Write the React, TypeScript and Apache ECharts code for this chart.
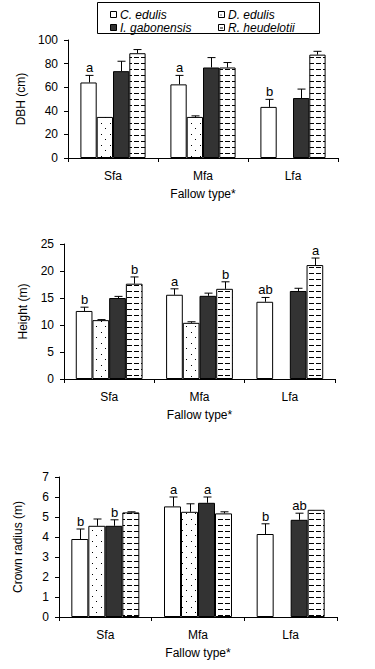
import React, { useEffect, useRef } from 'react';
import * as echarts from 'echarts';

const categories = ['Sfa', 'Mfa', 'Lfa'];
const speciesNames = ['C. edulis', 'D. edulis', 'I. gabonensis', 'R. heudelotii'];

// DBH (cm)
const dbhCedulis = [64.0, 62.4, 43.3];
const dbhCedulisErr = [70.0, 70.0, 49.7];
const dbhDedulis = [34.8, 34.8, null];
const dbhDedulisErr = [null, 35.7, null];
const dbhIgabonensis = [73.6, 76.7, 50.8];
const dbhIgabonensisErr = [82.0, 85.1, 58.4];
const dbhRheudelotii = [88.8, 76.7, 87.6];
const dbhRheudelotiiErr = [91.9, 80.9, 90.4];
const dbhLettersCedulis = ['a', 'a', 'b'];

// Height (m)
const hCedulis = [12.6, 15.6, 14.3];
const hCedulisErr = [13.3, 16.7, 15.1];
const hDedulis = [10.9, 10.4, null];
const hDedulisErr = [11.0, 10.6, null];
const hIgabonensis = [15.0, 15.4, 16.3];
const hIgabonensisErr = [15.3, 15.9, 16.8];
const hRheudelotii = [17.65, 16.7, 21.1];
const hRheudelotiiErr = [18.9, 18.0, 22.4];
const hLettersCedulis = ['b', 'a', 'ab'];
const hLettersRheudelotii = ['b', 'b', 'a'];

// Crown radius (m)
const crCedulis = [3.9, 5.53, 4.15];
const crCedulisErr = [4.4, 6.0, 4.66];
const crDedulis = [4.56, 5.26, null];
const crDedulisErr = [4.9, 5.66, null];
const crIgabonensis = [4.56, 5.71, 4.86];
const crIgabonensisErr = [4.86, 6.0, 5.19];
const crRheudelotii = [5.23, 5.18, 5.36];
const crRheudelotiiErr = [5.26, 5.26, null];
const crLettersCedulis = ['b', 'a', 'b'];
const crLettersIgabonensis = ['b', 'a', 'ab'];

const FONT = '"Liberation Sans", Arial, sans-serif';

const panels = [
  {
    yName: 'DBH (cm)', max: 100, interval: 20,
    grid: { left: 68, right: 37, top: 40, bottom: 511 },
    barW: 16.3,
    values: [dbhCedulis, dbhDedulis, dbhIgabonensis, dbhRheudelotii],
    errs: [dbhCedulisErr, dbhDedulisErr, dbhIgabonensisErr, dbhRheudelotiiErr],
    letters: [dbhLettersCedulis, null, null, null],
  },
  {
    yName: 'Height (m)', max: 25, interval: 5,
    grid: { left: 64, right: 40, top: 244, bottom: 290 },
    barW: 16.7,
    values: [hCedulis, hDedulis, hIgabonensis, hRheudelotii],
    errs: [hCedulisErr, hDedulisErr, hIgabonensisErr, hRheudelotiiErr],
    letters: [hLettersCedulis, null, null, hLettersRheudelotii],
  },
  {
    yName: 'Crown radius (m)', max: 7, interval: 1,
    grid: { left: 59, right: 38, top: 477, bottom: 52 },
    barW: 17,
    values: [crCedulis, crDedulis, crIgabonensis, crRheudelotii],
    errs: [crCedulisErr, crDedulisErr, crIgabonensisErr, crRheudelotiiErr],
    letters: [crLettersCedulis, null, crLettersIgabonensis, null],
  },
];

function makePattern(w: number, h: number, rects: number[][]) {
  const c = document.createElement('canvas');
  c.width = w;
  c.height = h;
  const ctx = c.getContext('2d')!;
  ctx.fillStyle = '#ffffff';
  ctx.fillRect(0, 0, w, h);
  ctx.fillStyle = '#000000';
  rects.forEach((r) => ctx.fillRect(r[0], r[1], r[2], r[3]));
  return { image: c, repeat: 'repeat', imageWidth: w, imageHeight: h };
}

function buildOption() {
  const dotPattern = makePattern(9, 11, [[2, 2, 1, 1], [6, 7, 1, 1]]);
  const dashPattern = makePattern(7, 6, [[1, 3, 5, 1]]);
  const fills: any[] = ['#ffffff', dotPattern, '#333333', dashPattern];

  const grid: any[] = [];
  const xAxis: any[] = [];
  const yAxis: any[] = [];
  const series: any[] = [];

  panels.forEach((p, pi) => {
    grid.push({ ...p.grid, containLabel: false });
    xAxis.push({
      type: 'category', gridIndex: pi, data: categories,
      name: 'Fallow type*', nameLocation: 'middle', nameGap: 30,
      nameTextStyle: { fontFamily: FONT, fontSize: 12, color: '#000' },
      axisLine: { lineStyle: { color: '#000', width: 1 } },
      axisTick: { show: true, length: 4, lineStyle: { color: '#000' } },
      axisLabel: { margin: 12, fontFamily: FONT, fontSize: 12, color: '#000' },
      splitLine: { show: false },
    });
    yAxis.push({
      type: 'value', gridIndex: pi, min: 0, max: p.max, interval: p.interval,
      name: p.yName, nameLocation: 'middle', nameGap: 35,
      nameTextStyle: { fontFamily: FONT, fontSize: 12, color: '#000' },
      axisLine: { show: true, lineStyle: { color: '#000', width: 1 } },
      axisTick: { show: true, length: 4, lineStyle: { color: '#000' } },
      axisLabel: { margin: 10, fontFamily: FONT, fontSize: 12, color: '#000' },
      splitLine: { show: false },
    });

    p.values.forEach((vals, si) => {
      series.push({
        type: 'bar', name: speciesNames[si], xAxisIndex: pi, yAxisIndex: pi,
        data: vals.map((v) => (v == null ? '-' : v)),
        barWidth: p.barW, barGap: '0%',
        itemStyle: { color: fills[si], borderColor: '#000', borderWidth: 1 },
        emphasis: { disabled: true },
        silent: true,
      });
    });

    const rows: any[] = [];
    const rowLetters: (string | null)[] = [];
    p.values.forEach((vals, si) => {
      vals.forEach((v, ci) => {
        if (v == null) return;
        const e = p.errs[si][ci];
        rows.push([ci, si, v, e == null ? v : e]);
        const l = p.letters[si];
        rowLetters.push(l ? l[ci] : null);
      });
    });
    const barW = p.barW;
    series.push({
      type: 'custom', xAxisIndex: pi, yAxisIndex: pi,
      dimensions: ['cat', 'sp', 'val', 'err'],
      encode: { x: 0, y: 3 },
      data: rows,
      silent: true,
      z: 5,
      renderItem: (params: any, api: any) => {
        const cat = api.value(0);
        const s = api.value(1);
        const v = api.value(2);
        const e = api.value(3);
        const base = api.coord([cat, v]);
        const top = api.coord([cat, e]);
        const x = Math.round(base[0] + (s - 1.5) * barW) + 0.5;
        const children: any[] = [];
        if (e > v) {
          children.push({
            type: 'line',
            shape: { x1: x, y1: base[1], x2: x, y2: top[1] },
            style: { stroke: '#000', lineWidth: 1 },
          });
          children.push({
            type: 'line',
            shape: { x1: x - 4, y1: top[1], x2: x + 4, y2: top[1] },
            style: { stroke: '#000', lineWidth: 1 },
          });
        }
        const letter = rowLetters[params.dataIndex];
        if (letter) {
          children.push({
            type: 'text',
            x: x,
            y: top[1] - 1,
            style: {
              text: letter, textAlign: 'center', textVerticalAlign: 'bottom',
              fontFamily: FONT, fontSize: 13, fill: '#000',
            },
          });
        }
        return { type: 'group', children };
      },
    });
  });

  // Legend (drawn as graphic)
  const legendPos = [
    { x: 110, y: 15 }, { x: 218, y: 15 },
    { x: 110, y: 28 }, { x: 218, y: 28 },
  ];
  const legendFill = ['#ffffff', '#ffffff', '#333333', '#ffffff'];
  const legendChildren: any[] = [
    { type: 'rect', shape: { x: 97.5, y: 2.5, width: 222, height: 31 }, style: { fill: '#fff', stroke: '#000', lineWidth: 1 } },
  ];
  speciesNames.forEach((name, si) => {
    const pos = legendPos[si];
    const sx = pos.x + 0.5;
    const sy = pos.y - 3.5;
    legendChildren.push({
      type: 'rect', shape: { x: sx, y: sy, width: 6, height: 6 },
      style: { fill: legendFill[si], stroke: '#000', lineWidth: 1 },
    });
    if (si === 1) {
      legendChildren.push({ type: 'rect', shape: { x: sx + 2, y: sy + 3, width: 1, height: 1 }, style: { fill: '#000' } });
    }
    if (si === 3) {
      legendChildren.push({ type: 'rect', shape: { x: sx + 1.5, y: sy + 3, width: 3, height: 1 }, style: { fill: '#000' } });
    }
    legendChildren.push({
      type: 'text', x: pos.x + 10, y: pos.y,
      style: {
        text: name, textVerticalAlign: 'middle', textAlign: 'left',
        fontFamily: FONT, fontSize: 12, fontStyle: 'italic', fill: '#000',
      },
    });
  });

  return {
    animation: false,
    backgroundColor: '#fff',
    grid, xAxis, yAxis, series,
    graphic: [{ type: 'group', children: legendChildren, silent: true }],
  };
}

export default function App() {
  const ref = useRef<HTMLDivElement>(null);
  useEffect(() => {
    if (!ref.current) return;
    const chart = echarts.init(ref.current, null, { renderer: 'svg' });
    chart.setOption(buildOption() as any);
    return () => chart.dispose();
  }, []);
  return (
    <div
      ref={ref}
      style={{ position: 'absolute', left: 0, top: 0, width: 375, height: 669, background: '#fff' }}
    />
  );
}
